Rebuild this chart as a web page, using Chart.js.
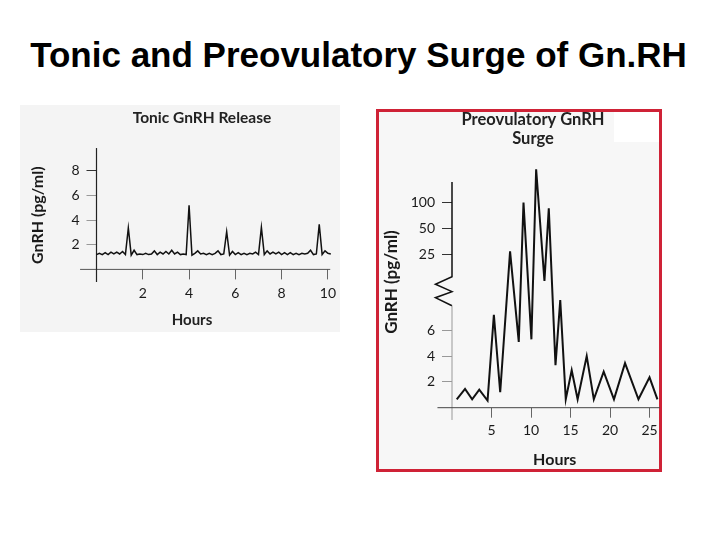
<!DOCTYPE html>
<html>
<head>
<meta charset="utf-8">
<title>Tonic and Preovulatory Surge of Gn.RH</title>
<script src="https://cdn.jsdelivr.net/npm/chart.js@4.4.1/dist/chart.umd.min.js"></script>
<style>
  html, body { margin: 0; padding: 0; background: #fff; overflow: hidden; }
  body { width: 720px; height: 540px; position: relative; }
  h1 {
    position: absolute; left: 0; top: 34.6px; width: 717px; margin: 0;
    text-align: center; color: #000;
    font: bold 35px/40px "Liberation Sans", Arial, sans-serif;
  }
  #tonicPanel { position: absolute; left: 20px; top: 105px; width: 320px; height: 227px; background: #f4f4f4; }
  #surgePanel { position: absolute; left: 376px; top: 109px; width: 280px; height: 357px; border: 3px solid #cf2236; background: #f7f7f7; }
  #surgePatch { position: absolute; left: 614px; top: 112px; width: 45px; height: 30px; background: #fff; }
  canvas { position: absolute; }
  #tonicChart { left: 26px; top: 105px; }
  #surgeChart { left: 376px; top: 109px; }
</style>
</head>
<body>
<h1>Tonic and Preovulatory Surge of Gn.RH</h1>
<div id="tonicPanel"></div>
<div id="surgePanel"></div>
<div id="surgePatch"></div>
<canvas id="tonicChart" width="332" height="227"></canvas>
<canvas id="surgeChart" width="286" height="363"></canvas>
<script>
/* ---------------- data: tonic release (sampled every 7.5 min) ---------------- */
const tonicHours = [
  0, 0.125, 0.25, 0.375, 0.5, 0.625, 0.75, 0.875,
  1, 1.125, 1.25, 1.375, 1.5, 1.625, 1.75, 1.875,
  2, 2.125, 2.25, 2.375, 2.5, 2.625, 2.75, 2.875,
  3, 3.125, 3.25, 3.375, 3.5, 3.625, 3.75, 3.875,
  4, 4.125, 4.25, 4.375, 4.5, 4.625, 4.75, 4.875,
  5, 5.125, 5.25, 5.375, 5.5, 5.625, 5.75, 5.875,
  6, 6.125, 6.25, 6.375, 6.5, 6.625, 6.75, 6.875,
  7, 7.125, 7.25, 7.375, 7.5, 7.625, 7.75, 7.875,
  8, 8.125, 8.25, 8.375, 8.5, 8.625, 8.75, 8.875,
  9, 9.125, 9.25, 9.375, 9.5, 9.625, 9.75, 9.875,
  10, 10.125
];
const tonicLevels = [
  1.2, 1.3, 1.2, 1.35, 1.2, 1.4, 1.25, 1.4,
  1.25, 1.45, 1.2, 3.35, 1.15, 1.55, 1.2, 1.25,
  1.2, 1.3, 1.2, 1.25, 1.5, 1.2, 1.4, 1.25,
  1.45, 1.25, 1.55, 1.25, 1.4, 1.2, 1.25, 1.2,
  5.2, 1.15, 1.3, 1.5, 1.25, 1.3, 1.2, 1.3,
  1.2, 1.3, 1.5, 1.2, 1.25, 3.05, 1.15, 1.45,
  1.2, 1.35, 1.2, 1.3, 1.2, 1.3, 1.25, 1.4,
  1.2, 3.4, 1.2, 1.5, 1.25, 1.4, 1.25, 1.4,
  1.2, 1.35, 1.2, 1.35, 1.2, 1.3, 1.2, 1.3,
  1.25, 1.3, 1.55, 1.2, 1.25, 3.65, 1.2, 1.5,
  1.3, 1.25
];
const tonicXTicks = [2, 4, 6, 8, 10];
const tonicYTicks = [2, 4, 6, 8];

/* ---------------- data: preovulatory surge ---------------- */
const surgeHours = [0.6, 1.65, 2.55, 3.45, 4.5, 5.3, 6.1, 7.35, 8.45, 9.05, 10.05, 10.65, 11.7, 12.25,
  13.1, 13.7, 14.4, 15.15, 15.9, 17.05, 17.95, 19.2, 20.5, 21.9, 23.6, 25.0, 26.0];
const surgeLevels = [0.65, 1.45, 0.65, 1.4, 0.55, 7.2, 1.2, 27, 5.1, 100, 5.3, 245, 16, 86,
  3.3, 9.5, 0.65, 2.9, 0.65, 4.0, 0.65, 2.8, 0.65, 3.45, 0.65, 2.35, 0.65];
const surgeXTicks = [5, 10, 15, 20, 25];
const surgeYTicks = [2, 4, 6, 25, 50, 100];

// broken y axis: linear up to 8, squeezed through the break, doubling steps from 25 up
function toAxis(v) {
  if (v <= 8) return v;
  if (v < 25) return 8 + (v - 8) * 3.9 / 17;
  return 11.9 + 2 * Math.log2(v / 25);
}

Chart.defaults.font.family = "Lato, 'Open Sans', sans-serif";
Chart.defaults.color = "#1a1a1a";

/* axis lines drawn in data units, so they can run past the plot and carry a break */
const axisLines = {
  id: "axisLines",
  beforeDatasetsDraw(chart, args, opts) {
    const { ctx, scales: { x, y } } = chart;
    (opts.paths || []).forEach((p) => {
      ctx.save();
      ctx.beginPath();
      p.points.forEach(([vx, vy], i) => {
        const px = x.getPixelForValue(vx);
        const py = y.getPixelForValue(vy);
        if (i) ctx.lineTo(px, py); else ctx.moveTo(px, py);
      });
      ctx.strokeStyle = p.color;
      ctx.lineWidth = p.width;
      ctx.lineJoin = "miter";
      ctx.stroke();
      ctx.restore();
    });
  },
};

/* panel heading, placed off-centre like the scanned figure */
const heading = {
  id: "heading",
  afterDraw(chart, args, opts) {
    const ctx = chart.ctx;
    ctx.save();
    ctx.font = opts.font;
    ctx.fillStyle = opts.color;
    ctx.textAlign = "center";
    ctx.textBaseline = "middle";
    opts.lines.forEach((t, i) => ctx.fillText(t, opts.x, opts.y + i * opts.lineGap));
    ctx.restore();
  },
};

/* ---------------- TONIC GnRH RELEASE ---------------- */
new Chart(document.getElementById("tonicChart"), {
  type: "line",
  data: {
    datasets: [{
      data: tonicHours.map((h, i) => ({ x: h, y: tonicLevels[i] })),
      borderColor: "#111",
      borderWidth: 1.5,
      pointRadius: 0,
      tension: 0,
      clip: false,
    }],
  },
  plugins: [axisLines, heading],
  options: {
    responsive: false,
    animation: false,
    layout: { padding: { top: 56, left: 0, right: 0, bottom: 0 } },
    plugins: {
      legend: { display: false },
      tooltip: { enabled: false },
      subtitle: {
        display: true, position: "bottom", text: "Hours", color: "#222",
        font: { size: 15, weight: "bold" }, padding: { top: 0, bottom: 3 },
      },
      heading: { lines: ["Tonic GnRH Release"], x: 176, y: 13, lineGap: 18, font: "bold 15.5px Lato", color: "#222" },
      axisLines: {
        paths: [
          { points: [[-0.71, 0], [10.1, 0]], color: "#555", width: 1 },
          { points: [[0, -1.02], [0, 9.83]], color: "#222", width: 1.2 },
        ],
      },
    },
    scales: {
      x: {
        type: "linear", min: 0, max: 11.3,
        afterBuildTicks: (s) => { s.ticks = tonicXTicks.map((v) => ({ value: v })); },
        afterFit: (s) => { s.height = 41.6; },
        border: { display: false },
        grid: { drawOnChartArea: false, tickLength: 10, color: "#666" },
        ticks: { autoSkip: false, maxRotation: 0, padding: 5.4, font: { size: 14 } },
      },
      y: {
        min: 0, max: 8.78,
        afterBuildTicks: (s) => { s.ticks = tonicYTicks.map((v) => ({ value: v })); },
        afterFit: (s) => { s.width = 70.5; },
        border: { display: false },
        grid: { drawOnChartArea: false, tickLength: 10, color: (c) => (c.tick && c.tick.value === 8 ? "#333" : "#999") },
        ticks: { autoSkip: false, padding: 7, font: { size: 14 } },
        title: { display: true, text: "GnRH (pg/ml)", font: { size: 16, weight: "bold" }, padding: { top: 1.9, bottom: 0 } },
      },
    },
  },
});

/* ---------------- PREOVULATORY GnRH SURGE ---------------- */
new Chart(document.getElementById("surgeChart"), {
  type: "line",
  data: {
    datasets: [{
      data: surgeHours.map((h, i) => ({ x: h, y: toAxis(surgeLevels[i]) })),
      borderColor: "#111",
      borderWidth: 2,
      pointRadius: 0,
      tension: 0,
      clip: false,
    }],
  },
  plugins: [axisLines, heading],
  options: {
    responsive: false,
    animation: false,
    layout: { padding: { top: 47.3, left: 0, right: 4.5, bottom: 0 } },
    plugins: {
      legend: { display: false },
      tooltip: { enabled: false },
      heading: { lines: ["Preovulatory GnRH", "Surge"], x: 157, y: 11, lineGap: 18.3, font: "bold 16.5px Lato", color: "#222" },
      axisLines: {
        paths: [
          { points: [[0, 17.5], [0, 10.16], [-2.1, 9.57], [0, 9.0], [-2.1, 8.53], [0, 7.9]], color: "#111", width: 1.5 },
          { points: [[0, 7.9], [0, -0.95]], color: "#999", width: 1 },
          { points: [[-1.84, 0], [26.3, 0]], color: "#444", width: 1 },
        ],
      },
    },
    scales: {
      x: {
        type: "linear", min: 0, max: 26.01,
        afterBuildTicks: (s) => { s.ticks = surgeXTicks.map((v) => ({ value: v })); },
        afterFit: (s) => { s.height = 64.3; },
        border: { display: false },
        grid: { drawOnChartArea: false, tickLength: 10, color: "#666" },
        ticks: { autoSkip: false, maxRotation: 0, padding: 4, font: { size: 14 } },
        title: { display: true, text: "Hours", font: { size: 16, weight: "bold" }, padding: { top: 0, bottom: 2.4 } },
      },
      y: {
        min: 0, max: 19.49,
        afterBuildTicks: (s) => { s.ticks = surgeYTicks.map((v) => ({ value: toAxis(v) })); },
        afterFit: (s) => { s.width = 76; },
        border: { display: false },
        grid: { drawOnChartArea: false, tickLength: 10, color: (c) => (c.tick && c.tick.value > 8 ? "#333" : "#999") },
        ticks: { autoSkip: false, padding: 7, font: { size: 14 }, callback: (v, i) => surgeYTicks[i] },
        title: { display: true, text: "GnRH (pg/ml)", font: { size: 17, weight: "bold" }, padding: { top: 5.8, bottom: 0 } },
      },
    },
  },
});
</script>
</body>
</html>
